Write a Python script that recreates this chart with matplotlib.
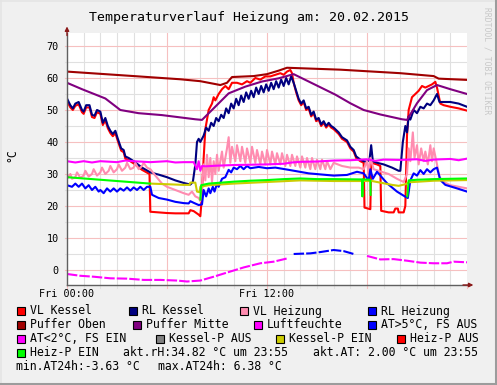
import matplotlib
matplotlib.use('Agg')
import matplotlib.pyplot as plt
import numpy as np
from matplotlib.patches import Rectangle
from matplotlib.lines import Line2D

# ---- data (hours since Fri 00:00, values in deg C) ----
rl_kessel_t = [0.0, 0.2, 0.35, 0.5, 0.7, 0.9, 1.0, 1.15, 1.35, 1.5, 1.65, 1.8, 2.0, 2.15, 2.3, 2.45,
               2.6, 2.75, 2.9, 3.05, 3.25, 3.4, 3.5, 3.7, 4.0, 4.5, 5.0, 5.5, 6.0, 6.5, 7.0, 7.4,
               7.55, 7.7, 7.8, 7.9, 8.0, 8.2, 8.35, 8.5, 8.65, 8.8, 8.95, 9.1, 9.25, 9.4, 9.55, 9.7,
               9.85, 10.0, 10.15, 10.3, 10.45, 10.6, 10.75, 10.9, 11.05, 11.2, 11.35, 11.5, 11.65,
               11.8, 11.95, 12.1, 12.25, 12.4, 12.55, 12.7, 12.85, 13.0, 13.15, 13.3, 13.45, 13.6,
               13.75, 13.9, 14.05, 14.2, 14.35, 14.5, 14.65, 14.8, 14.95, 15.1, 15.25, 15.4, 15.55,
               15.7, 15.85, 16.0, 16.3, 16.5, 16.8, 17.0, 17.2, 17.35, 17.6, 17.8, 18.0, 18.15,
               18.25, 18.35, 18.6, 19.0, 19.5, 19.9, 20.0, 20.15, 20.3, 20.4, 20.5, 20.6, 20.8,
               21.0, 21.2, 21.4, 21.6, 21.8, 22.0, 22.2, 22.35, 22.6, 23.0, 23.5, 24.0]
rl_kessel = [53.6, 51.5, 50.5, 52.0, 52.5, 50.0, 49.5, 51.5, 51.5, 48.5, 48.2, 50.0, 49.5, 46.0, 47.5, 45.0,
             43.5, 42.5, 43.5, 41.0, 38.0, 37.5, 35.5, 35.0, 34.0, 32.0, 30.5, 29.8, 29.0, 28.0, 27.2, 26.7,
             27.5, 33.0, 40.0, 41.0, 40.0, 42.0, 44.5, 43.5, 46.0, 45.0, 47.5, 46.5, 48.5, 47.5, 50.5, 49.0,
             52.0, 50.5, 53.5, 51.5, 54.5, 52.5, 55.5, 53.5, 56.0, 54.0, 57.0, 55.0, 57.5,
             55.5, 58.0, 56.0, 58.5, 56.5, 59.0, 57.0, 59.5, 57.5, 60.0, 58.0, 60.5, 58.5,
             56.0, 53.5, 52.0, 53.0, 50.5, 51.0, 48.5, 49.5, 47.0, 47.5, 45.5, 46.5, 45.0,
             46.0, 45.0, 44.5, 43.0, 41.5, 40.5, 38.5, 37.5, 35.5, 34.5, 34.0, 33.8, 34.5,
             39.0, 34.0, 33.5, 33.0, 32.0, 31.0, 31.0, 40.0, 45.0, 43.0, 48.0, 47.0, 50.0,
             49.0, 51.0, 50.5, 52.0, 51.5, 53.0, 55.0, 52.5, 52.5, 52.5, 52.0, 51.0]

vl_kessel_t = [0.0, 0.2, 0.35, 0.5, 0.7, 0.9, 1.0, 1.15, 1.35, 1.5, 1.65, 1.8, 2.0, 2.15, 2.3, 2.45,
               2.6, 2.75, 2.9, 3.05, 3.25, 3.4, 3.5, 3.7, 4.0, 4.5, 4.95, 5.0, 5.5, 6.0, 6.5, 7.0,
               7.3, 7.4, 7.6, 7.9, 8.0, 8.05, 8.2, 8.3, 8.5, 8.7, 8.8, 8.9, 9.1, 9.3, 9.5, 9.7, 9.9,
               10.2, 10.5, 10.8, 11.0, 11.3, 11.6, 11.9, 12.2, 12.5, 12.8, 13.0, 13.2, 13.4, 13.5,
               13.6, 13.75, 13.9, 14.05, 14.2, 14.35, 14.5, 14.65, 14.8, 14.95, 15.1, 15.25, 15.4,
               15.55, 15.7, 15.85, 16.0, 16.3, 16.5, 16.8, 17.0, 17.2, 17.35, 17.6, 17.8, 17.85,
               18.2, 18.25, 18.6, 18.8, 18.85, 19.3, 19.6, 19.7, 19.85, 19.9, 20.2, 20.3, 20.4,
               20.5, 20.7, 20.9, 21.1, 21.3, 21.5, 21.7, 21.9, 22.1, 22.2, 22.4, 22.6, 23.0, 23.5, 24.0]
vl_kessel = [52.8, 50.8, 50.0, 51.3, 51.8, 49.3, 48.8, 50.8, 50.8, 47.8, 47.5, 49.3, 48.8, 45.3, 46.8, 44.3,
             42.8, 41.8, 42.8, 40.3, 37.3, 36.8, 34.8, 34.3, 33.3, 31.3, 30.0, 18.2, 18.0, 17.8, 17.7, 17.7,
             17.7, 18.7, 18.4, 17.3, 16.8, 20.0, 35.0, 44.0, 50.0, 52.0, 54.0, 53.0, 55.0, 56.5, 57.5, 56.5, 58.5,
             58.5, 58.0, 59.0, 58.5, 60.0, 59.5, 60.5, 60.5, 61.0, 61.5, 61.0, 62.0, 62.5, 61.5,
             58.5, 55.5, 53.0, 51.5, 52.5, 50.0, 50.5, 48.0, 49.0, 46.5, 47.0, 45.0, 46.0,
             44.5, 45.5, 44.5, 44.0, 42.5, 41.0, 40.0, 38.0, 37.0, 35.0, 34.0, 33.5, 19.5,
             19.0, 33.5, 33.0, 32.5, 18.5, 18.0, 18.0, 19.2, 19.2, 18.0, 18.0, 20.0, 42.0,
             50.0, 54.0, 55.0, 56.0, 57.5, 57.0, 57.5, 58.0, 58.8, 57.0, 52.0, 51.5, 51.0, 50.5, 49.8]

vl_heiz_t = [0.0, 0.2, 0.3, 0.5, 0.6, 0.8, 1.0, 1.1, 1.3, 1.5, 1.6, 1.8, 2.0, 2.1, 2.3, 2.5, 2.6, 2.8,
             3.0, 3.1, 3.3, 3.5, 3.6, 3.8, 4.0, 4.1, 4.3, 4.5, 4.6, 4.8, 5.0, 5.3, 5.7, 6.0, 6.5, 7.0,
             7.3, 7.5, 7.7, 7.9, 8.0, 8.1, 8.2, 8.3, 8.4, 8.5, 8.6, 8.7, 8.8, 8.9, 9.0, 9.1, 9.3, 9.4,
             9.6, 9.7, 9.8, 9.9, 10.1, 10.2, 10.4, 10.5, 10.7, 10.8, 11.0, 11.1, 11.3, 11.4, 11.6,
             11.7, 11.9, 12.0, 12.2, 12.3, 12.5, 12.6, 12.8, 12.9, 13.1, 13.2, 13.4, 13.5, 13.7,
             13.8, 14.0, 14.1, 14.3, 14.4, 14.6, 14.7, 14.9, 15.0, 15.2, 15.3, 15.5, 15.6, 15.8,
             16.0, 16.5, 17.0, 17.5, 17.8, 18.0, 18.1, 18.2, 18.4, 18.8, 19.3, 19.8, 20.2, 20.4,
             20.5, 20.6, 20.75, 20.85, 21.0, 21.1, 21.25, 21.4, 21.5, 21.65, 21.8, 21.9, 22.0,
             22.2, 22.35, 22.6, 23.0, 23.5, 24.0]
vl_heiz = [28.5, 30.0, 28.5, 29.0, 30.5, 28.8, 29.5, 31.0, 29.2, 30.0, 31.5, 29.5, 30.5, 32.0, 30.0, 31.0, 32.5, 30.5,
           31.5, 33.0, 31.0, 32.0, 33.5, 31.5, 32.0, 33.5, 31.5, 32.5, 33.5, 32.0, 31.5, 29.5, 27.0, 26.0, 25.0, 24.0,
           23.5, 24.5, 23.0, 22.5, 21.5, 26.0, 33.0, 28.0, 36.0, 29.0, 35.0, 27.5, 34.0, 30.0, 36.0, 31.0, 37.0, 32.0,
           38.0, 41.5, 33.5, 38.5, 34.0, 39.0, 34.0, 38.5, 33.5, 38.0, 33.5, 38.5, 33.5, 37.5, 33.0,
           37.0, 33.0, 37.5, 33.0, 37.0, 33.0, 36.5, 33.0, 36.5, 32.5, 36.0, 32.5, 36.0, 32.5,
           35.5, 32.0, 35.5, 32.0, 35.0, 31.5, 35.0, 31.5, 34.5, 31.5, 34.5, 31.5, 34.0, 31.5,
           33.5, 32.5, 32.0, 32.0, 31.5, 34.0, 30.0, 35.0, 31.5, 30.8, 30.0, 28.5, 27.5, 30.0,
           38.0, 34.0, 43.0, 35.0, 39.0, 33.0, 38.0, 34.0, 37.0, 33.0, 39.0, 34.0, 38.0,
           33.0, 29.0, 27.5, 26.5, 26.0, 25.5]

rl_heiz_t = [0.0, 0.3, 0.5, 0.7, 0.9, 1.1, 1.3, 1.5, 1.7, 1.9, 2.0, 2.2, 2.4, 2.6, 2.8, 3.0, 3.2, 3.4,
             3.6, 3.8, 4.0, 4.2, 4.4, 4.6, 4.8, 5.0, 5.1, 5.5, 6.0, 6.5, 7.0, 7.3, 7.4, 7.6, 7.9, 8.1,
             8.2, 8.35, 8.5, 8.6, 8.75, 8.85, 9.0, 9.1, 9.3, 9.5, 9.7, 9.85, 10.0, 10.2, 10.4, 10.6,
             10.8, 11.0, 11.5, 12.0, 12.5, 13.3, 14.5, 16.0, 16.8, 17.4, 17.8, 18.1, 18.2, 18.35,
             18.6, 19.2, 19.8, 20.3, 20.45, 20.6, 20.8, 21.0, 21.2, 21.4, 21.6, 21.8, 22.0, 22.2,
             22.4, 22.7, 23.4, 24.0]
rl_heiz = [26.5, 26.0, 27.0, 26.0, 27.0, 25.5, 26.5, 25.0, 26.0, 24.5, 25.0, 24.0, 25.5, 24.5, 25.5, 24.5, 25.5, 24.8,
           25.8, 24.8, 25.8, 25.0, 26.0, 25.0, 26.0, 26.0, 23.5, 22.5, 22.0, 21.3, 20.9, 20.8, 21.5, 21.0, 20.3, 20.5,
           25.0, 23.0, 25.5, 24.0, 26.0, 24.5, 27.0, 26.0, 28.5, 29.0, 31.3, 30.5, 32.0, 31.5, 32.5, 31.5,
           32.5, 31.8, 32.2, 31.8, 32.0, 31.3, 30.2, 29.5, 29.7, 30.7, 30.2, 28.0, 31.5, 28.5,
           30.7, 27.1, 24.5, 22.9, 22.5, 28.0, 30.2, 29.5, 31.2, 30.0, 31.5, 30.5, 31.5, 32.0,
           28.1, 26.6, 25.5, 24.5]

puffer_oben_t = [0.0, 4.0, 6.8, 8.0, 9.2, 9.6, 9.9, 11.2, 12.0, 12.7, 13.2, 16.4, 20.0, 22.0, 22.3, 24.0]
puffer_oben = [62.0, 60.6, 59.6, 59.0, 57.8, 58.5, 60.3, 60.6, 61.2, 62.3, 63.2, 62.6, 61.5, 60.6, 59.8, 59.4]

puffer_mitte_t = [0.0, 0.9, 2.3, 3.2, 4.3, 5.7, 7.7, 8.1, 8.7, 9.7, 10.7, 11.7, 12.7, 13.6, 14.5, 16.1,
                  17.0, 17.8, 18.8, 20.1, 20.4, 21.0, 21.6, 22.2, 23.0, 24.0]
puffer_mitte = [58.5, 56.5, 53.6, 50.0, 49.0, 48.4, 47.1, 46.9, 50.0, 55.2, 57.3, 58.9, 59.9, 61.2, 58.9, 54.8,
                52.1, 50.0, 48.6, 47.1, 46.9, 52.1, 56.2, 57.8, 56.5, 55.0]

feuchte_t = [0.0, 0.5, 1.0, 1.5, 2.0, 3.0, 3.5, 4.0, 5.0, 6.0, 6.5, 7.0, 7.6, 7.8, 7.9, 8.0, 8.1, 8.3,
             9.0, 10.0, 11.0, 12.0, 13.0, 13.5, 14.0, 15.0, 16.0, 17.0, 18.0, 18.5, 19.0, 20.0, 21.0,
             21.5, 22.0, 23.0, 23.5, 24.0]
feuchte = [34.0, 33.6, 34.0, 33.6, 34.0, 33.7, 34.2, 34.0, 33.7, 34.0, 33.6, 33.7, 33.7, 31.5, 34.0, 31.0, 32.5, 32.4,
           32.6, 32.8, 32.9, 33.0, 33.2, 33.6, 33.8, 33.9, 34.2, 34.3, 34.6, 34.1, 34.5, 34.4, 34.6,
           34.1, 34.5, 34.7, 34.3, 34.8]

heizp_ein_t = [0.0, 1.0, 2.0, 3.0, 4.0, 4.98, 5.0, 8.0, 8.0, 8.05, 8.5, 9.0, 10.0, 11.0, 12.0, 13.0, 14.0,
               15.0, 16.0, 17.7, 17.72, 17.75, 18.2, 18.22, 18.25, 20.4, 20.42, 20.5, 21.0, 22.0, 23.0, 24.0]
heizp_ein = [29.0, 28.6, 28.2, 27.8, 27.4, 27.0, np.nan, np.nan, 22.0, 26.5, 27.0, 27.2, 27.6, 27.9, 28.1, 28.4, 28.6,
             28.4, 28.4, 28.3, 23.0, 28.3, 28.2, 23.5, np.nan, np.nan, 23.0, 28.0, 28.2, 28.4, 28.5, 28.6]

kesselp_ein_t = [5.0, 6.0, 7.0, 7.35, 7.4, 7.7, 7.8, 7.95, 8.0, 8.5, 10.0, 12.0, 14.0, 16.0, 18.3, 18.8,
                 19.5, 19.9, 20.3, 20.5, 22.0, 24.0]
kesselp_ein = [27.0, 26.8, 26.6, 26.6, 27.3, 27.3, 24.5, 24.3, 26.0, 26.5, 27.0, 27.5, 28.0, 27.8, 27.8, 27.3,
               26.6, 26.3, 26.8, 27.4, 27.9, 28.1]

aussen_t = [0.0, 0.78, 1.6, 2.6, 3.6, 4.6, 5.6, 6.6, 7.2, 8.0, 8.8, 9.6, 10.6, 11.6, 12.4, 13.2, 13.6,
            14.6, 15.2, 16.0, 16.6, 17.2, 18.0, 18.8, 19.6, 20.4, 21.2, 22.0, 22.8, 23.2, 24.0]
aussen = [-1.25, -1.8, -2.1, -2.6, -2.7, -3.1, -3.1, -3.3, -3.6, -3.3, -2.1, -0.8, 0.8, 2.1, 2.6, 3.6, 5.0,
          5.2, 5.6, 6.25, 5.9, 5.0, 4.4, 3.3, 3.4, 2.9, 2.3, 2.1, 2.1, 2.6, 2.4]

legend_rows = [
    [('VL Kessel', '#ff0000'), ('RL Kessel', '#000080'), ('VL Heizung', '#ff8cb0'), ('RL Heizung', '#0000ff')],
    [('Puffer Oben', '#a00000'), ('Puffer Mitte', '#800080'), ('Luftfeuchte', '#ff00ff'), ('AT>5°C, FS AUS', '#0000ff')],
    [('AT<2°C, FS EIN', '#ff00ff'), ('Kessel-P AUS', '#808080'), ('Kessel-P EIN', '#cccc00'), ('Heiz-P AUS', '#ff0000')],
]
legend_x = [[17, 129, 240, 368], [17, 133, 254, 368], [17, 156, 276, 397]]

W, H = 497, 385
plt.rcParams['font.family'] = 'DejaVu Sans Mono'

fig = plt.figure(figsize=(W / 100, H / 100), dpi=100, facecolor='#f0f0f0')
ax = fig.add_axes([67 / W, 1 - 285 / H, 400 / W, 252 / H])
ax.set_facecolor('white')
ax.set_xlim(0, 24)
ax.set_ylim(-4.69, 74.06)

# grid: gray every hour / 5 units, pink every 6 h / 10 units
major_c, minor_c = '#f6c0c0', '#e0e0e0'
for h in range(1, 24):
    ax.axvline(h, color=major_c if h % 6 == 0 else minor_c, lw=0.8, zorder=0)
for v in range(0, 75, 5):
    ax.axhline(v, color=major_c if v % 10 == 0 else minor_c, lw=0.8, zorder=0)

lw = 1.5
ax.plot(vl_kessel_t, vl_kessel, color='#ff0000', lw=lw)
ax.plot(rl_kessel_t, rl_kessel, color='#000080', lw=lw)
ax.plot(vl_heiz_t, vl_heiz, color='#ff8cb0', lw=lw)
ax.plot(rl_heiz_t, rl_heiz, color='#0000ff', lw=lw)
ax.plot(puffer_oben_t, puffer_oben, color='#a00000', lw=lw)
ax.plot(puffer_mitte_t, puffer_mitte, color='#800080', lw=lw)
ax.plot(feuchte_t, feuchte, color='#ff00ff', lw=lw)
at = np.array(aussen)
ax.plot(aussen_t, np.where(at < 5.0, at, np.nan), color='#ff00ff', lw=lw, ls=(0, (5, 1)))
ax.plot(aussen_t, np.where(at >= 5.0, at, np.nan), color='#0000ff', lw=lw, ls=(0, (5, 1)))
ax.plot(kesselp_ein_t, kesselp_ein, color='#cccc00', lw=lw)
ax.plot(heizp_ein_t, heizp_ein, color='#00ff00', lw=lw)

for s in ax.spines.values():
    s.set_visible(False)
ax.set_xticks([0, 12])
ax.set_xticklabels(['Fri 00:00', 'Fri 12:00'])
ax.set_yticks(range(0, 71, 10))
ax.tick_params(length=0, labelsize=7.3)
ax.tick_params(axis='x', pad=3)
ax.tick_params(axis='y', pad=6)

# small grid stubs outside the canvas
for h in range(0, 25):
    ax.plot([h, h], [-4.69, -5.5], color=major_c if h % 6 == 0 else minor_c, lw=0.8, clip_on=False)
for v in range(0, 75, 5):
    ax.plot([0, -0.12], [v, v], color=major_c if v % 10 == 0 else minor_c, lw=0.8, clip_on=False)

# axes with arrow heads
axc, arr = '#606060', '#8b1a1a'
ax.plot([0, 1.0], [0, 0], transform=ax.transAxes, color=axc, lw=1, clip_on=False)
ax.plot([0, 0], [0, 1.0], transform=ax.transAxes, color=axc, lw=1, clip_on=False)
ax.annotate('', xy=(0, 1.026), xytext=(0, 0.99), xycoords='axes fraction',
            arrowprops=dict(arrowstyle='-|>', color=arr, lw=1, mutation_scale=6, shrinkA=0, shrinkB=0))
ax.annotate('', xy=(1.016, 0), xytext=(0.99, 0), xycoords='axes fraction',
            arrowprops=dict(arrowstyle='-|>', color=arr, lw=1, mutation_scale=6, shrinkA=0, shrinkB=0))

fig.text(249 / W, 1 - 17 / H, 'Temperaturverlauf Heizung am: 20.02.2015', ha='center', va='center', fontsize=9.5)
fig.text(12 / W, 1 - 155 / H, '°C', rotation=90, ha='center', va='center', fontsize=8.3)
fig.text(487 / W, 1 - 7 / H, 'RRDTOOL / TOBI OETIKER', rotation=-90, ha='center', va='top',
         fontsize=5.8, color='#c8c8c8')

# legend
rows_y = [311, 325, 339, 353, 367]


def box(x, y, c):
    fig.add_artist(Rectangle((x / W, 1 - (y + 4) / H), 8 / W, 8 / H, transform=fig.transFigure,
                             facecolor=c, edgecolor='black', lw=0.8))


for r, items in enumerate(legend_rows):
    for (label, c), x in zip(items, legend_x[r]):
        box(x, rows_y[r], c)
        fig.text((x + 13) / W, 1 - rows_y[r] / H, label, ha='left', va='center', fontsize=8.3)
box(17, rows_y[3], '#00ff00')
fig.text(30 / W, 1 - rows_y[3] / H, 'Heiz-P EIN', ha='left', va='center', fontsize=8.3)
fig.text(123 / W, 1 - rows_y[3] / H, 'akt.rH:34.82 °C um 23:55', ha='left', va='center', fontsize=8.3)
fig.text(313 / W, 1 - rows_y[3] / H, 'akt.AT: 2.00 °C um 23:55', ha='left', va='center', fontsize=8.3)
fig.text(16 / W, 1 - rows_y[4] / H, 'min.AT24h:-3.63 °C', ha='left', va='center', fontsize=8.3)
fig.text(158 / W, 1 - rows_y[4] / H, 'max.AT24h: 6.38 °C', ha='left', va='center', fontsize=8.3)

# 3d frame
fig.add_artist(Line2D([0.5 / W, 0.5 / W], [0, 1], transform=fig.transFigure, color='#e4e4e4', lw=1.2))
fig.add_artist(Line2D([0, 1], [1 - 0.5 / H, 1 - 0.5 / H], transform=fig.transFigure, color='#e4e4e4', lw=1.2))
fig.add_artist(Line2D([1 - 1.5 / W, 1 - 1.5 / W], [0, 1], transform=fig.transFigure, color='#9c9c9c', lw=2.2))
fig.add_artist(Line2D([0, 1], [1.5 / H, 1.5 / H], transform=fig.transFigure, color='#9c9c9c', lw=2.2))

fig.savefig('out.png', dpi=100, facecolor=fig.get_facecolor())
